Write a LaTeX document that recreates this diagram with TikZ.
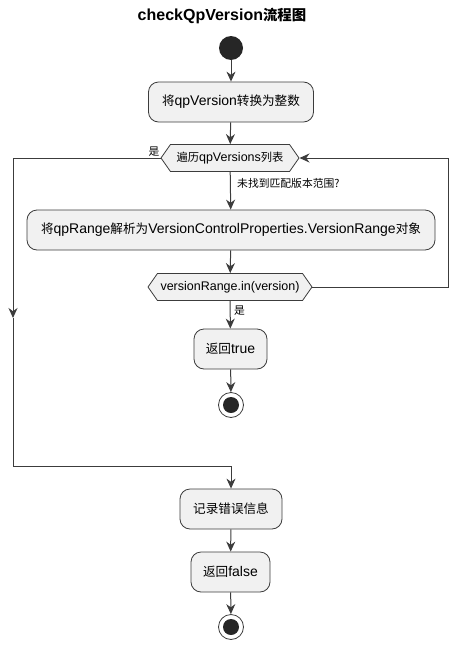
\documentclass[tikz,border=0pt]{standalone}
\usepackage{fontspec}
\setmainfont{Liberation Sans}
\newfontfamily\cjk[Scale=0.9]{Noto Sans CJK SC}
\usetikzlibrary{shapes.symbols}
\usetikzlibrary{arrows.meta}
\newcommand{\zh}[1]{{\cjk #1}}
\definecolor{boxfill}{HTML}{F1F1F1}
\definecolor{linegray}{HTML}{3C3C3C}

\begin{document}
\begin{tikzpicture}[x=1pt,y=-1pt,
  act/.style={draw=linegray,fill=boxfill,line width=0.8pt,rounded corners=10pt,minimum height=40pt,inner sep=0pt,font=\fontsize{14}{16}\selectfont},
  cond/.style={draw=linegray,fill=boxfill,line width=0.8pt,signal,signal to=east and west,signal from=nowhere,signal pointer angle=110,minimum height=27pt,inner sep=0pt,font=\fontsize{12.5}{14}\selectfont},
  flow/.style={draw=linegray,line width=1pt,-{Stealth[length=10pt,width=9pt]}},
  lbl/.style={font=\fontsize{12}{14}\selectfont,inner sep=1pt}]
  \useasboundingbox (0,0) rectangle (453,648);
  \node[font=\fontsize{16}{18}\selectfont\bfseries] (title) at (222,16) {checkQpVersion\zh{流程图}};
  \node[circle,fill=black!85,minimum size=24pt,inner sep=0pt] (start) at (231,48) {};
  \node[act,minimum width=165pt] (conv) at (231,102) {\zh{将}qpVersion\zh{转换为整数}};
  \node[cond,minimum width=138pt] (loop) at (230,158) {\zh{遍历}qpVersions\zh{列表}};
  \node[act,minimum width=408pt] (parse) at (231,230) {\zh{将}qpRange\zh{解析为}VersionControlProperties.VersionRange\zh{对象}};
  \node[cond,minimum width=164pt] (inr) at (230,287) {versionRange.in(version)};
  \node[act,minimum width=73pt] (rtrue) at (230.5,349) {\zh{返回}true};
  \node[circle,draw=linegray,fill=white,line width=0.8pt,minimum size=25pt,inner sep=0pt] (end1) at (231,405) {};
  \fill[black!85] (end1) circle (8);
  \node[act,minimum width=102pt] (rec) at (231,509) {\zh{记录错误信息}};
  \node[act,minimum width=79pt] (rfalse) at (230.5,572) {\zh{返回}false};
  \node[circle,draw=linegray,fill=white,line width=0.8pt,minimum size=25pt,inner sep=0pt] (end2) at (231,627) {};
  \fill[black!85] (end2) circle (8);
  % loop corners
  \coordinate (lt) at (13,158);
  \coordinate (lm) at (13,318);
  \coordinate (lb) at (13,466);
  \coordinate (rt) at (448,158);
  \coordinate (rb) at (448,287);
  \draw[flow] (start) -- (conv);
  \draw[flow] (conv) -- (loop);
  \draw[flow] (loop) -- (parse);
  \draw[flow] (parse) -- (inr);
  \draw[flow] (inr) -- (rtrue);
  \draw[flow] (rtrue) -- (end1);
  \draw[flow] (rec) -- (rfalse);
  \draw[flow] (rfalse) -- (end2);
  \draw[flow] (loop.west) -- (lt) -- (lm);
  \draw[flow] (lm) -- (lb) -| (rec.north);
  \draw[flow] (inr.east) -- (rb) -- (rt) -- (loop.east);
  \node[lbl,anchor=south east] (yes1) at (loop.west) {\zh{是}};
  \node[lbl,anchor=west] (miss) at (236,183) {\zh{未找到匹配版本范围?}};
  \node[lbl,anchor=west] (yes2) at (233,311) {\zh{是}};
\end{tikzpicture}
\end{document}
